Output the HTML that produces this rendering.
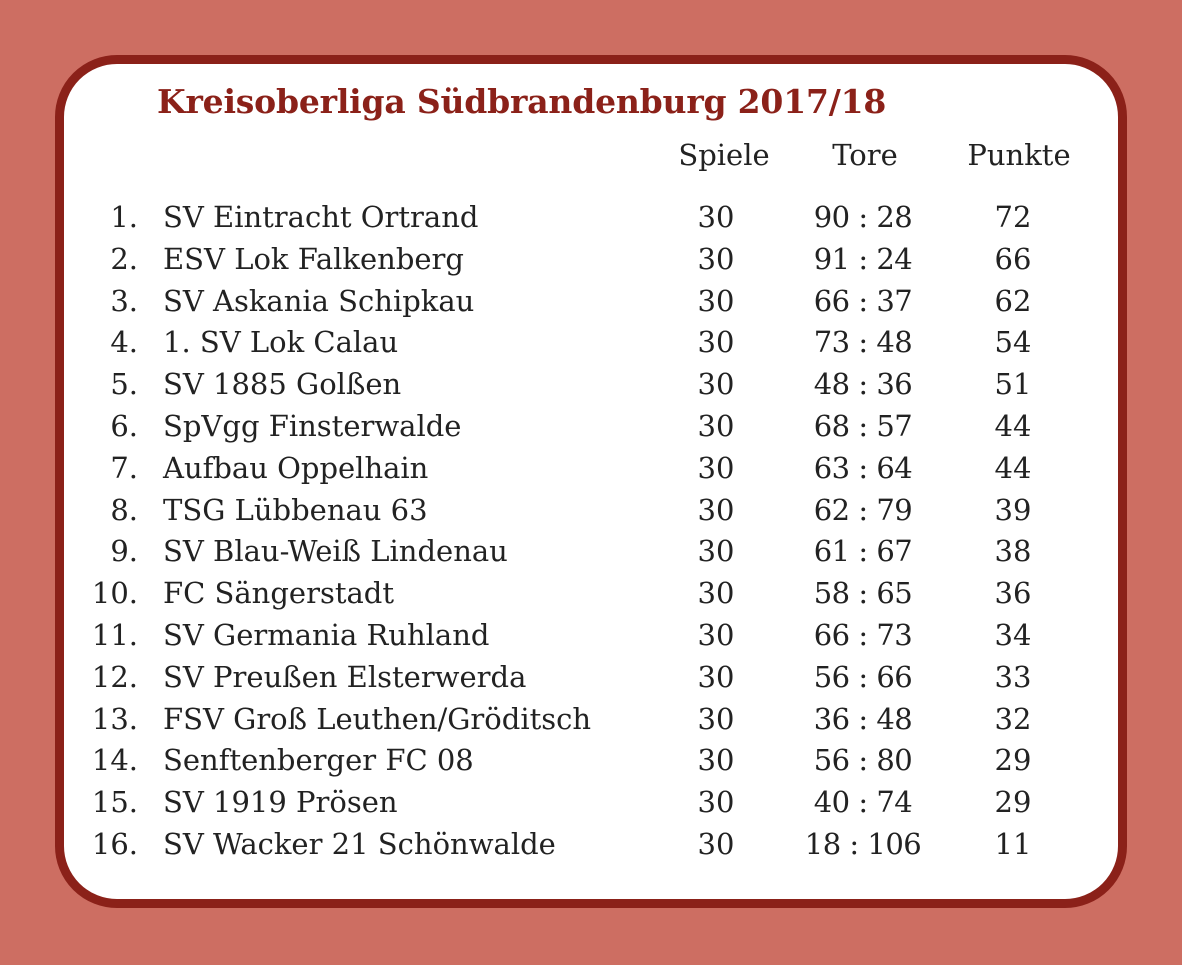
<!DOCTYPE html>
<html><head><meta charset="utf-8"><style>
body{margin:0;width:1182px;height:965px;background:#cd6e62;position:relative;overflow:hidden;font-family:"DejaVu Serif","Liberation Serif",serif;color:#222}
.card{position:absolute;left:55px;top:55px;width:1054px;height:835px;background:#fff;border:9px solid #8b2119;border-radius:62px}
.t{position:absolute;white-space:nowrap;font-size:29px;line-height:30px}
.title{position:absolute;left:157px;top:84px;font-size:33px;line-height:36px;font-weight:bold;color:#8b2119;white-space:nowrap;letter-spacing:-0.2px}
.r{text-align:right;width:60px}
.c{text-align:center;width:140px}
</style></head><body>
<div class="card"></div>
<div class="title">Kreisoberliga Südbrandenburg 2017/18</div>
<div class="t c" style="left:654px;top:140px">Spiele</div>
<div class="t c" style="left:795px;top:140px">Tore</div>
<div class="t c" style="left:949px;top:140px">Punkte</div>
<div id="rows"></div>
<script>
var d=[["SV Eintracht Ortrand","90 : 28","72"],["ESV Lok Falkenberg","91 : 24","66"],["SV Askania Schipkau","66 : 37","62"],["1. SV Lok Calau","73 : 48","54"],["SV 1885 Golßen","48 : 36","51"],["SpVgg Finsterwalde","68 : 57","44"],["Aufbau Oppelhain","63 : 64","44"],["TSG Lübbenau 63","62 : 79","39"],["SV Blau-Weiß Lindenau","61 : 67","38"],["FC Sängerstadt","58 : 65","36"],["SV Germania Ruhland","66 : 73","34"],["SV Preußen Elsterwerda","56 : 66","33"],["FSV Groß Leuthen/Gröditsch","36 : 48","32"],["Senftenberger FC 08","56 : 80","29"],["SV 1919 Prösen","40 : 74","29"],["SV Wacker 21 Schönwalde","18 : 106","11"]];
var h="";
d.forEach(function(r,i){var y=202+i*41.8;
h+='<div class="t r" style="left:78px;top:'+y+'px">'+(i+1)+'.</div>';
h+='<div class="t" style="left:163px;top:'+y+'px">'+r[0]+'</div>';
h+='<div class="t c" style="left:646px;top:'+y+'px">30</div>';
h+='<div class="t c" style="left:793px;top:'+y+'px;letter-spacing:-0.5px">'+r[1]+'</div>';
h+='<div class="t c" style="left:943px;top:'+y+'px">'+r[2]+'</div>';});
document.getElementById("rows").innerHTML=h;
</script>
</body></html>
